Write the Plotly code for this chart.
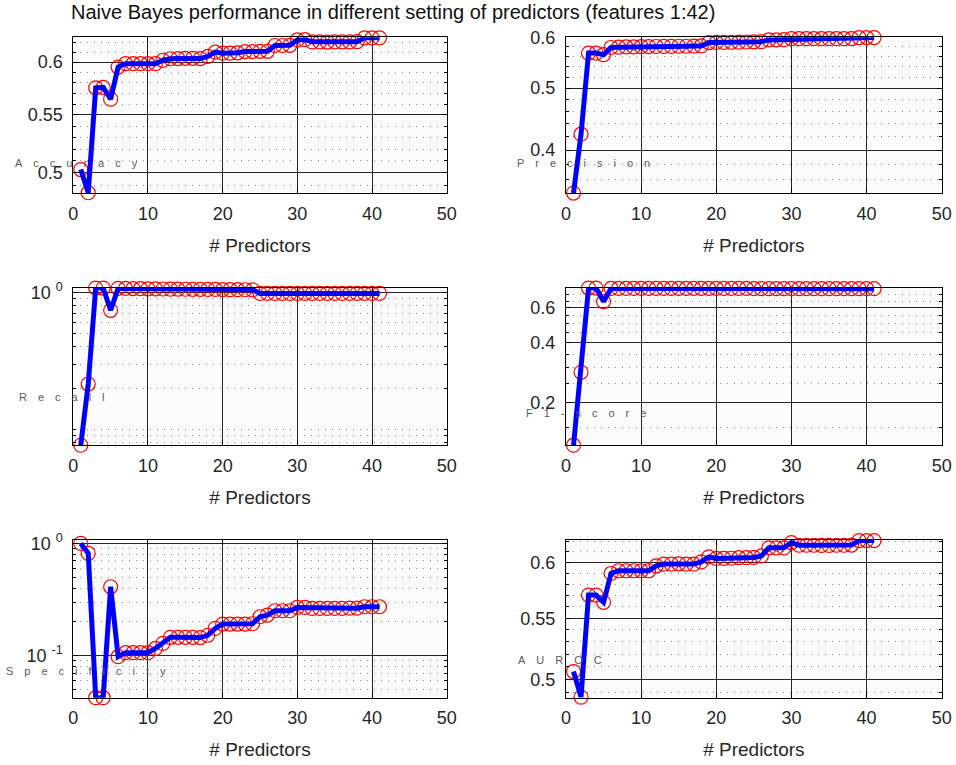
import math
import plotly.graph_objects as go

W, H = 956, 765

n_predictors = list(range(1, 42))

accuracy = [0.5027, 0.4839, 0.5751, 0.5755, 0.5645, 0.5951, 0.5984, 0.5984, 0.5984, 0.5984,
            0.5984, 0.6018, 0.6033, 0.6035, 0.6037, 0.6037, 0.6035, 0.6056, 0.6099, 0.6089,
            0.6089, 0.6092, 0.6105, 0.6105, 0.6107, 0.6107, 0.6166, 0.6166, 0.6168, 0.6223,
            0.6225, 0.6203, 0.6203, 0.6201, 0.6203, 0.6203, 0.6203, 0.6205, 0.6244, 0.6244,
            0.6244]

precision = [0.3426, 0.4236, 0.5673, 0.5673, 0.5640, 0.5789, 0.5795, 0.5800, 0.5800, 0.5805,
             0.5808, 0.5810, 0.5812, 0.5812, 0.5815, 0.5815, 0.5818, 0.5822, 0.5893, 0.5895,
             0.5897, 0.5899, 0.5902, 0.5905, 0.5908, 0.5912, 0.5950, 0.5952, 0.5955, 0.5975,
             0.5976, 0.5975, 0.5975, 0.5975, 0.5976, 0.5976, 0.5976, 0.5978, 0.6000, 0.6000,
             0.6000]

recall = [0.0768, 0.2147, 1.075, 1.075, 0.740, 1.070, 1.068, 1.066, 1.064, 1.062,
          1.060, 1.058, 1.056, 1.055, 1.054, 1.053, 1.052, 1.051, 1.050, 1.048,
          1.047, 1.046, 1.045, 1.043, 0.983, 0.983, 0.983, 0.983, 0.983, 0.983,
          0.983, 0.983, 0.983, 0.983, 0.983, 0.983, 0.983, 0.983, 0.983, 0.983,
          0.983]

f1_score = [0.1219, 0.2843, 0.7553, 0.7553, 0.6459, 0.7524, 0.7524, 0.7524, 0.7524, 0.7524,
            0.7524, 0.7524, 0.7524, 0.7524, 0.7524, 0.7524, 0.7524, 0.7524, 0.7522, 0.7522,
            0.7522, 0.7522, 0.7520, 0.7520, 0.7505, 0.7505, 0.7505, 0.7505, 0.7505, 0.7505,
            0.7505, 0.7505, 0.7505, 0.7505, 0.7505, 0.7505, 0.7505, 0.7505, 0.7505, 0.7505,
            0.7505]

specificity = [1.0, 0.815, 0.0423, 0.0423, 0.411, 0.098, 0.1063, 0.1063, 0.1063, 0.1063,
               0.116, 0.1288, 0.1457, 0.1457, 0.1457, 0.1457, 0.1450, 0.152, 0.175, 0.1913,
               0.1913, 0.1913, 0.1913, 0.1925, 0.2223, 0.230, 0.2514, 0.2514, 0.2514, 0.2690,
               0.2690, 0.2637, 0.2637, 0.2637, 0.2637, 0.2637, 0.2650, 0.2650, 0.2729, 0.2729,
               0.2729]

auroc = [0.506, 0.4862, 0.5702, 0.5702, 0.5638, 0.5898, 0.5923, 0.5923, 0.5923, 0.5923,
         0.5923, 0.5969, 0.5985, 0.5985, 0.5988, 0.5985, 0.5985, 0.6006, 0.6053, 0.6038,
         0.6038, 0.6040, 0.6045, 0.6045, 0.6048, 0.6062, 0.6139, 0.6139, 0.6139, 0.6190,
         0.6164, 0.6164, 0.6164, 0.6162, 0.6162, 0.6164, 0.6164, 0.6166, 0.6209, 0.6209,
         0.6209]

x_ticks = [0, 10, 20, 30, 40, 50]

title_text = "Naive Bayes performance in different setting of predictors (features 1:42)"
x_title = "# Predictors"

# panel config: (label, data, tickvals, ticktext, minor dtick, y upper limit or None)
panels = [
    ("Accuracy", accuracy, [0.5, 0.55, 0.6], ["0.5", "0.55", "0.6"], "L0.01", None),
    ("Precision", precision, [0.4, 0.5, 0.6], ["0.4", "0.5", "0.6"], "L0.02", None),
    ("Recall", recall, [1.0], ["10 <sup>0</sup>"], "D1", 1.075),
    ("F1-score", f1_score, [0.2, 0.4, 0.6], ["0.2", "0.4", "0.6"], "L0.05", None),
    ("Specificity", specificity, [0.1, 1.0], ["10 <sup>-1</sup>", "10 <sup>0</sup>"], "D1", 1.071),
    ("AUROC", auroc, [0.5, 0.55, 0.6], ["0.5", "0.55", "0.6"], "L0.01", None),
]

# y-label positions in pixels (center)
label_pos = [(76, 163), (583, 163), (62, 397), (586, 413), (86, 671), (560, 660)]

col_px = [(73.3, 446.7), (566.0, 941.7)]
row_px = [(37.3, 193.3), (288.0, 445.3), (540.0, 697.7)]

FONT = "Liberation Sans, Arial, sans-serif"
TXT = "#262626"
EPS = 0.0004

fig = go.Figure()
layout_axes = {}
annotations = []

for i, (label, data, tv, tt, mdt, ytop) in enumerate(panels):
    r, c = divmod(i, 2)
    k = i + 1
    xa = "x" if k == 1 else f"x{k}"
    ya = "y" if k == 1 else f"y{k}"
    # markers first, then line on top
    fig.add_trace(go.Scatter(x=n_predictors, y=data, mode="markers", xaxis=xa, yaxis=ya,
                             marker=dict(symbol="circle-open", size=14, color="#ff0000",
                                         line=dict(width=1.2, color="#ff0000")),
                             cliponaxis=False, showlegend=False, hoverinfo="skip"))
    fig.add_trace(go.Scatter(x=n_predictors, y=data, mode="lines", xaxis=xa, yaxis=ya,
                             line=dict(color="#0000ff", width=5), cliponaxis=False,
                             showlegend=False))
    x0, x1 = col_px[c]
    y0, y1 = row_px[r]
    xdom = [x0 / W, x1 / W]
    ydom = [1 - y1 / H, 1 - y0 / H]
    lo = math.log10(min(data)) - EPS
    hi = math.log10(ytop if ytop else max(data)) + EPS
    xkey = "xaxis" if k == 1 else f"xaxis{k}"
    ykey = "yaxis" if k == 1 else f"yaxis{k}"
    layout_axes[xkey] = dict(
        domain=xdom, anchor=ya, range=[0, 50], tickmode="array", tickvals=x_ticks,
        automargin=False,
        showline=True, mirror="allticks", linecolor="#000000", linewidth=1,
        ticks="inside", ticklen=5, tickcolor="#000000",
        showgrid=True, gridcolor="#262626", gridwidth=1, zeroline=False,
        tickfont=dict(family=FONT, size=18, color=TXT), ticklabelstandoff=4,
        title=dict(text=x_title, font=dict(family=FONT, size=19, color=TXT), standoff=15),
    )
    layout_axes[ykey] = dict(
        domain=ydom, anchor=xa, type="log", range=[lo, hi], tickmode="array",
        tickvals=tv, ticktext=tt, automargin=False,
        showline=True, mirror="allticks", linecolor="#000000", linewidth=1,
        ticks="inside", ticklen=5, tickcolor="#000000",
        showgrid=True, gridcolor="#262626", gridwidth=1, zeroline=False,
        tickfont=dict(family=FONT, size=18, color=TXT), ticklabelstandoff=6,
        minor=dict(dtick=mdt, tick0=0, showgrid=True, gridcolor="#8c8c8c", gridwidth=1,
                   griddash="1px,6px", ticks="inside", ticklen=3, tickcolor="#000000"),
    )
    lx, ly = label_pos[i]
    annotations.append(dict(
        x=lx / W, y=1 - ly / H, xref="paper", yref="paper", showarrow=False,
        text="\u2003".join(list(label)), xanchor="center", yanchor="middle",
        font=dict(family=FONT, size=11, color="#5a5a5a"),
    ))

annotations.append(dict(
    x=393 / W, y=1 - 12 / H, xref="paper", yref="paper", showarrow=False,
    text=title_text, xanchor="center", yanchor="middle",
    font=dict(family=FONT, size=20, color="#111111"),
))

fig.update_layout(
    width=W, height=H, margin=dict(l=0, r=0, t=0, b=0),
    paper_bgcolor="#ffffff", plot_bgcolor="#fcfcfc",
    annotations=annotations, showlegend=False,
    **layout_axes,
)

fig.write_html("out.html", config={"displayModeBar": False},
               post_script="document.body.style.margin='0';document.body.style.padding='0';")
